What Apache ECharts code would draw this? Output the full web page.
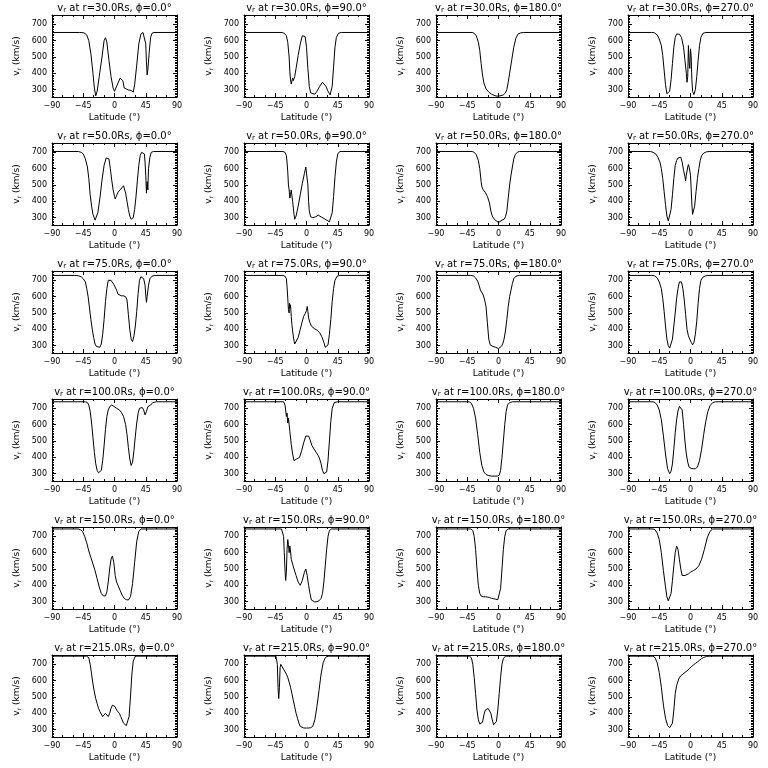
<!DOCTYPE html>
<html><head><meta charset="utf-8">
<script src="https://cdn.jsdelivr.net/npm/echarts@6/dist/echarts.min.js"></script>
<style>html,body{margin:0;padding:0;background:#fff}#c{width:768px;height:768px}</style>
</head><body><div id="c"></div>
<script>
const radii = [30, 50, 75, 100, 150, 215];
const phis = [0, 90, 180, 270];
const xTickLabels = [-90, -45, 0, 45, 90];
const yTickLabels = [300, 400, 500, 600, 700];
const yMin = 255, yMax = 757;

const v30_0 = [[-90,650],[-50,650],[-44,648],[-40,635],[-37,600],[-34,520],[-31,400],[-29,310],[-27,262],[-25,290],[-22,380],[-18,500],[-15,600],[-13,618],[-11,590],[-8,480],[-5,380],[-2,310],[0,290],[2,300],[5,340],[8,370],[10,375],[12,355],[14,310],[16,298],[20,298],[24,295],[27,285],[29,330],[32,450],[35,580],[38,640],[41,650],[43,645],[45,580],[46,470],[47,390],[48,420],[50,530],[52,620],[54,645],[57,650],[90,650]];
const v30_90 = [[-90,650],[-35,650],[-32,645],[-29,630],[-27,590],[-25,500],[-24,410],[-23,360],[-22,335],[-21,345],[-20,370],[-19,355],[-18,345],[-17,380],[-15,430],[-12,510],[-9,580],[-6,630],[-4,640],[-2,625],[0,560],[2,430],[4,320],[6,280],[8,272],[12,272],[15,290],[19,320],[23,345],[25,345],[28,320],[31,290],[34,268],[35,265],[37,320],[39,440],[41,560],[43,620],[46,645],[50,650],[90,650]];
const v30_180 = [[-90,650],[-38,650],[-35,645],[-32,630],[-29,590],[-27,540],[-25,460],[-23,390],[-21,340],[-18,305],[-14,285],[-10,272],[-5,263],[-2,260],[0,262],[2,262],[4,260],[7,268],[10,280],[12,300],[14,345],[16,400],[19,480],[22,560],[25,615],[28,640],[32,648],[36,650],[90,650]];
const v30_270 = [[-90,650],[-56,650],[-52,648],[-48,635],[-45,610],[-42,570],[-40,510],[-38,420],[-36,330],[-34,275],[-32,265],[-30,290],[-28,360],[-26,460],[-24,560],[-22,620],[-20,640],[-18,648],[-16,640],[-13,620],[-10,560],[-8,480],[-6,400],[-5,345],[-4,380],[-3,570],[-2,470],[-1,430],[0,550],[1,500],[2,360],[3,290],[5,270],[7,300],[9,380],[11,480],[13,570],[15,620],[18,645],[22,650],[90,650]];

const v50_0 = [[-90,705],[-52,705],[-48,700],[-45,690],[-42,660],[-39,610],[-37,540],[-35,440],[-33,370],[-31,320],[-28,285],[-26,290],[-24,330],[-21,420],[-18,530],[-15,620],[-12,665],[-10,675],[-8,660],[-6,600],[-4,530],[-2,470],[0,430],[1,415],[3,435],[5,455],[9,475],[13,495],[14,500],[16,450],[18,400],[20,350],[22,310],[24,290],[25,285],[27,300],[29,350],[31,430],[33,530],[35,620],[37,680],[39,700],[41,705],[43,690],[44,640],[45,560],[46,450],[47,520],[48,470],[49,600],[51,670],[53,700],[56,705],[90,705]];
const v50_90 = [[-90,705],[-34,705],[-31,700],[-29,680],[-28,640],[-27,580],[-26,500],[-25,470],[-24,470],[-24,420],[-23,440],[-22,470],[-21,470],[-20,400],[-18,320],[-17,290],[-15,310],[-12,370],[-9,440],[-6,510],[-3,570],[-1,610],[0,620],[1,600],[2,500],[3,400],[4,340],[6,305],[9,300],[13,305],[17,315],[21,305],[25,295],[29,285],[33,275],[35,275],[37,330],[39,430],[41,550],[43,640],[45,690],[48,705],[90,705]];
const v50_180 = [[-90,705],[-38,705],[-35,700],[-32,685],[-29,650],[-27,600],[-25,520],[-24,490],[-22,470],[-19,455],[-16,430],[-13,390],[-11,340],[-9,310],[-6,290],[-3,280],[0,270],[2,275],[5,285],[8,290],[10,305],[12,340],[14,420],[16,500],[18,560],[20,610],[22,660],[24,685],[27,700],[30,705],[90,705]];
const v50_270 = [[-90,705],[-58,705],[-54,700],[-50,690],[-47,670],[-44,640],[-42,600],[-40,540],[-38,460],[-36,380],[-34,310],[-32,280],[-30,290],[-28,350],[-26,440],[-24,540],[-22,620],[-20,650],[-18,665],[-16,675],[-14,670],[-12,640],[-10,590],[-8,550],[-7,525],[-6,560],[-4,610],[-3,625],[-2,610],[0,560],[1,470],[2,380],[3,320],[4,310],[6,370],[8,460],[10,540],[12,600],[14,650],[16,680],[19,695],[23,703],[28,705],[90,705]];

const v75_0 = [[-90,730],[-58,730],[-52,728],[-48,722],[-45,710],[-42,690],[-40,650],[-38,600],[-36,530],[-34,460],[-32,400],[-30,350],[-28,310],[-26,295],[-24,290],[-21,290],[-19,310],[-17,370],[-15,460],[-13,570],[-11,650],[-9,700],[-7,710],[-5,700],[-3,690],[-1,675],[1,665],[3,640],[5,615],[7,605],[10,605],[13,605],[16,600],[18,580],[20,490],[22,400],[24,340],[26,325],[28,360],[30,420],[32,510],[34,620],[36,700],[38,722],[40,725],[42,710],[44,670],[45,610],[46,565],[47,600],[49,670],[51,710],[54,725],[58,730],[90,730]];
const v75_90 = [[-90,730],[-34,730],[-31,725],[-29,710],[-28,660],[-27,590],[-26,520],[-25,500],[-24.5,560],[-24,530],[-23,550],[-22,480],[-21,430],[-20,390],[-18,330],[-17,310],[-15,320],[-12,350],[-9,400],[-6,450],[-4,480],[-2,495],[0,515],[1,540],[2,510],[3,470],[5,440],[7,420],[11,405],[15,395],[19,380],[22,355],[25,320],[27,290],[29,285],[31,305],[33,370],[35,460],[37,570],[39,650],[41,700],[44,725],[48,730],[90,730]];
const v75_180 = [[-90,730],[-40,730],[-36,727],[-33,715],[-30,695],[-28,670],[-26,640],[-24,630],[-22,610],[-20,580],[-18,540],[-16,440],[-14,340],[-12,305],[-8,295],[-4,290],[0,282],[2,285],[4,295],[6,310],[8,340],[10,390],[12,460],[14,540],[16,600],[18,640],[20,680],[22,710],[25,725],[30,730],[90,730]];
const v75_270 = [[-90,730],[-56,730],[-52,728],[-48,715],[-45,690],[-42,650],[-40,590],[-38,510],[-36,420],[-34,340],[-32,300],[-30,285],[-28,295],[-26,340],[-24,420],[-22,500],[-20,590],[-18,650],[-16,690],[-14,700],[-13,690],[-11,650],[-9,580],[-7,490],[-5,400],[-3,360],[-1,340],[1,320],[3,305],[5,320],[7,370],[9,450],[11,560],[13,650],[15,700],[18,720],[22,728],[28,730],[90,730]];

const v100_0 = [[-90,740],[-42,740],[-39,735],[-37,720],[-35,680],[-33,610],[-31,520],[-29,430],[-27,360],[-25,320],[-23,305],[-21,300],[-19,320],[-17,380],[-15,470],[-13,570],[-11,650],[-9,690],[-7,710],[-4,720],[-1,712],[3,700],[7,690],[10,675],[13,650],[16,600],[18,540],[20,460],[22,390],[24,350],[26,370],[28,440],[30,530],[32,610],[34,670],[36,700],[38,710],[40,705],[42,690],[44,660],[45,650],[46,680],[48,710],[50,720],[52,720],[55,735],[60,740],[90,740]];
const v100_90 = [[-90,740],[-33,740],[-31,720],[-30,690],[-29,650],[-28,670],[-27,610],[-26,640],[-25,600],[-24,560],[-22,480],[-20,420],[-18,380],[-16,370],[-14,390],[-12,380],[-10,400],[-7,440],[-4,490],[-1,530],[1,540],[3,530],[5,510],[8,470],[11,450],[14,430],[17,410],[19,390],[21,360],[23,320],[25,300],[27,295],[29,310],[31,380],[33,500],[35,620],[37,700],[40,735],[45,740],[90,740]];
const v100_180 = [[-90,740],[-42,740],[-39,730],[-36,700],[-33,640],[-30,540],[-27,430],[-24,350],[-21,310],[-18,295],[-14,288],[-10,285],[-6,285],[-2,285],[1,290],[3,320],[5,400],[7,500],[9,600],[11,680],[13,720],[16,735],[20,740],[90,740]];
const v100_270 = [[-90,740],[-54,740],[-51,735],[-48,720],[-45,690],[-42,630],[-39,530],[-36,420],[-33,330],[-30,300],[-28,315],[-26,360],[-24,450],[-22,550],[-20,630],[-18,685],[-16,712],[-14,720],[-12,690],[-10,600],[-8,500],[-6,420],[-4,370],[-2,340],[1,332],[4,330],[7,330],[10,340],[13,380],[16,450],[19,540],[22,620],[25,680],[28,715],[32,735],[36,740],[90,740]];

const v150_0 = [[-90,745],[-52,745],[-49,740],[-46,730],[-43,700],[-40,660],[-37,610],[-34,570],[-31,530],[-28,490],[-25,440],[-22,390],[-19,350],[-16,335],[-13,335],[-11,360],[-9,420],[-7,500],[-5,560],[-3,580],[-1,540],[1,460],[3,420],[5,400],[8,370],[11,340],[14,320],[17,312],[20,310],[23,330],[26,410],[29,540],[32,670],[35,730],[38,745],[90,745]];
const v150_90 = [[-90,745],[-36,745],[-34,740],[-33,700],[-32,600],[-31,500],[-30,430],[-29,480],[-28,620],[-27,680],[-26,650],[-25,600],[-24,640],[-23,610],[-22,560],[-20,530],[-18,500],[-15,460],[-12,420],[-9,400],[-6,430],[-3,480],[-1,500],[1,460],[3,400],[5,350],[7,310],[9,300],[12,298],[15,300],[18,305],[21,320],[23,350],[25,420],[27,520],[29,620],[31,700],[33,735],[36,745],[90,745]];
const v150_180 = [[-90,745],[-40,745],[-37,735],[-35,700],[-33,620],[-31,500],[-29,400],[-27,350],[-25,335],[-22,330],[-19,330],[-16,328],[-13,325],[-10,320],[-7,318],[-4,315],[-1,312],[1,320],[3,380],[5,500],[7,620],[9,700],[11,735],[14,745],[90,745]];
const v150_270 = [[-90,745],[-54,745],[-51,740],[-48,720],[-45,680],[-42,600],[-39,490],[-36,390],[-34,330],[-32,305],[-30,310],[-28,350],[-26,430],[-24,520],[-22,600],[-20,640],[-18,620],[-16,560],[-14,500],[-12,460],[-10,450],[-8,460],[-6,470],[-3,470],[0,480],[4,490],[8,500],[12,520],[16,560],[20,620],[24,690],[28,730],[32,745],[90,745]];

const v215_0 = [[-90,750],[-40,750],[-37,740],[-35,700],[-33,640],[-31,580],[-29,530],[-27,490],[-25,460],[-23,430],[-21,410],[-19,400],[-17,380],[-15,385],[-13,400],[-11,390],[-9,380],[-7,400],[-5,430],[-3,450],[-1,455],[1,440],[3,420],[5,410],[7,400],[9,380],[11,360],[13,340],[15,330],[17,325],[19,330],[21,380],[23,500],[25,640],[27,720],[30,750],[90,750]];
const v215_90 = [[-90,750],[-44,750],[-42,700],[-41,560],[-40,490],[-39,560],[-38,680],[-37,700],[-35,690],[-33,670],[-31,660],[-29,640],[-27,620],[-25,590],[-23,560],[-21,520],[-19,480],[-17,440],[-15,400],[-13,370],[-11,340],[-9,320],[-7,312],[-4,310],[0,310],[3,310],[6,312],[9,320],[12,360],[15,440],[18,540],[21,640],[24,710],[27,740],[30,750],[90,750]];
const v215_180 = [[-90,750],[-42,750],[-39,740],[-37,700],[-35,620],[-33,520],[-31,420],[-29,360],[-27,335],[-25,330],[-23,345],[-21,390],[-19,420],[-17,430],[-15,430],[-13,420],[-11,400],[-9,360],[-7,330],[-5,330],[-3,350],[-1,420],[1,520],[3,620],[5,700],[7,735],[10,750],[90,750]];
const v215_270 = [[-90,750],[-54,750],[-51,740],[-48,710],[-45,650],[-42,560],[-39,450],[-36,370],[-33,325],[-30,312],[-28,310],[-26,340],[-24,420],[-22,520],[-20,570],[-17,610],[-14,630],[-11,640],[-8,650],[-5,660],[-2,672],[1,685],[4,695],[7,705],[10,715],[13,725],[16,735],[19,742],[23,748],[28,750],[90,750]];

const panels = [
  [v30_0, v30_90, v30_180, v30_270],
  [v50_0, v50_90, v50_180, v50_270],
  [v75_0, v75_90, v75_180, v75_270],
  [v100_0, v100_90, v100_180, v100_270],
  [v150_0, v150_90, v150_180, v150_270],
  [v215_0, v215_90, v215_180, v215_270]
];

const FONT = 'DejaVu Sans';
const grids = [], xAxes = [], yAxes = [], series = [], graphics = [];
const axisLine = {show: true, onZero: false, lineStyle: {color: '#000', width: 1}};
let gi = 0;
for (let r = 0; r < radii.length; r++) {
  for (let c = 0; c < phis.length; c++) {
    const left = 192 * c + 52, top = 128 * r + 15, w = 125, h = 82;
    grids.push({left: left, top: top, width: w, height: h, containLabel: false});
    const xBase = {gridIndex: gi, type: 'value', min: -90, max: 90, interval: 45,
      axisLine: axisLine, splitLine: {show: false},
      axisTick: {show: true, inside: true, length: 4, lineStyle: {color: '#000'}},
      minorTick: {show: true, splitNumber: 3, length: 2, lineStyle: {color: '#000'}}};
    xAxes.push(Object.assign({}, xBase, {position: 'bottom',
      axisLabel: {show: true, fontFamily: FONT, fontSize: 8, color: '#000', margin: 5,
        formatter: v => xTickLabels.indexOf(v) >= 0 ? (v < 0 ? '\u2212' + (-v) : String(v)) : ''},
      name: 'Latitude (\u00b0)', nameLocation: 'middle', nameGap: 16,
      nameTextStyle: {fontFamily: FONT, fontSize: 9, color: '#000'}}));
    xAxes.push(Object.assign({}, xBase, {position: 'top', axisLabel: {show: false}}));
    const yBase = {gridIndex: gi, type: 'value', min: yMin, max: yMax, splitNumber: 5,
      axisLine: axisLine, splitLine: {show: false},
      axisTick: {show: true, inside: true, length: 4, lineStyle: {color: '#000'}},
      minorTick: {show: true, splitNumber: 10, length: 2, lineStyle: {color: '#000'}}};
    yAxes.push(Object.assign({}, yBase, {position: 'left',
      axisLabel: {show: true, fontFamily: FONT, fontSize: 8, color: '#000', margin: 5,
        showMinLabel: false, showMaxLabel: false,
        formatter: v => yTickLabels.indexOf(v) >= 0 ? String(v) : ''},
      name: '{v|v}{s|r} (km/s)', nameLocation: 'middle', nameGap: 30, nameRotate: 90,
      nameTextStyle: {fontFamily: FONT, fontSize: 9, color: '#000',
        rich: {v: {fontFamily: FONT, fontSize: 9, color: '#000'}, s: {fontFamily: FONT, fontSize: 6, color: '#000', padding: [4, 0, 0, 0]}}}}));
    yAxes.push(Object.assign({}, yBase, {position: 'right', axisLabel: {show: false}}));
    series.push({type: 'line', xAxisIndex: 2 * gi, yAxisIndex: 2 * gi, data: panels[r][c],
      showSymbol: false, symbol: 'none', lineStyle: {color: '#000', width: 1}, silent: true, clip: true});
    graphics.push({type: 'text', x: left + w / 2, y: top - 7,
      style: {text: '{v|v}{s|r} at r=' + radii[r].toFixed(1) + 'Rs, \u03d5=' + phis[c].toFixed(1) + '\u00b0',
        font: '10px "' + FONT + '"', fill: '#000', align: 'center', verticalAlign: 'middle',
        textAlign: 'center', textVerticalAlign: 'middle',
        rich: {v: {fontFamily: FONT, fontSize: 10, fill: '#000'}, s: {fontFamily: FONT, fontSize: 7, fill: '#000', padding: [4, 0, 0, 0]}}}});
    gi++;
  }
}

const chart = echarts.init(document.getElementById('c'), null, {renderer: 'canvas'});
chart.setOption({
  animation: false,
  backgroundColor: '#fff',
  grid: grids, xAxis: xAxes, yAxis: yAxes, series: series, graphic: graphics
});
</script></body></html>
